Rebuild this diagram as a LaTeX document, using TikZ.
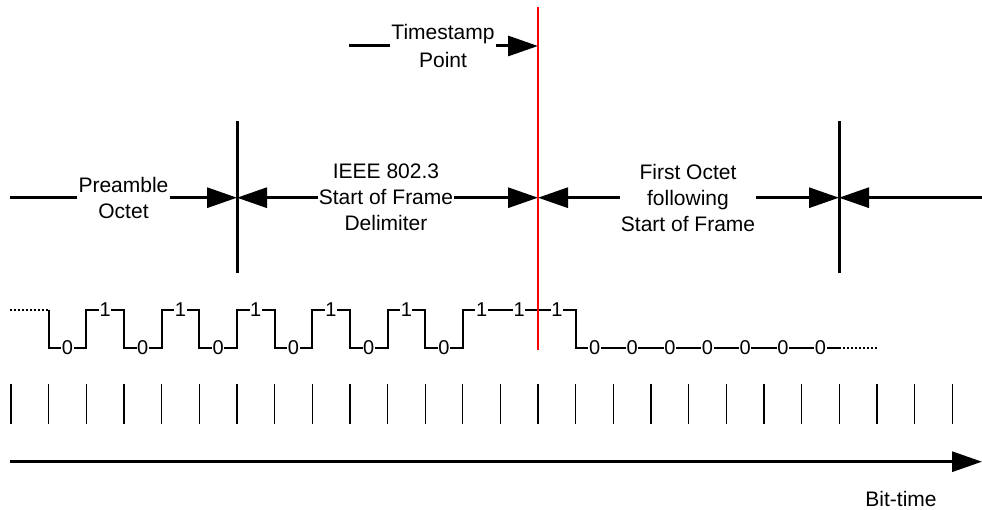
\documentclass[tikz,border=0pt]{standalone}
\usepackage{fontspec}
\setmainfont{Liberation Sans}
\usetikzlibrary{arrows.meta}
\begin{document}
\begin{tikzpicture}[x=1pt,y=-1pt,
  lbl/.style={font=\fontsize{21}{26}\selectfont, align=center, inner ysep=0pt, inner xsep=1pt},
  bitlbl/.style={font=\fontsize{20}{24}\selectfont, fill=white, inner sep=0.6pt},
  dimline/.style={line width=3pt},
  dimarrow/.style={line width=3pt, -{Triangle[length=30pt,width=20pt]}},
  wave/.style={line width=2pt},
  dotwave/.style={line width=1.6pt, dash pattern=on 2pt off 2pt},
  tickmark/.style={line width=1.3pt},
  marker/.style={line width=3pt}
]
\useasboundingbox (0,0) rectangle (982,510);

% ---- dimension row ----
\coordinate (d0) at (10,197.7);
\coordinate (v1) at (237,197.7);
\coordinate (v2) at (538,197.7);
\coordinate (v3) at (839,197.7);
\coordinate (d9) at (982,197.7);

\node[lbl] (pre) at (123.5,197.7) {Preamble\\Octet};
\node[lbl] (sfd) at (386,197.7) {IEEE 802.3\\Start of Frame\\Delimiter};
\node[lbl] (fo)  at (688,197.7) {First Octet\\following\\Start of Frame};

\draw[dimline]  (d0) -- (pre.west);
\draw[dimarrow] (pre.east) -- (v1);
\draw[dimarrow] (sfd.west) -- (v1);
\draw[dimarrow] (sfd.east) -- (v2);
\draw[dimarrow] (fo.west) -- (v2);
\draw[dimarrow] (fo.east) -- (v3);
\draw[dimarrow] (d9) -- (v3);

\draw[marker] (237,121) -- (237,273);
\draw[marker] (839,121) -- (839,273);

% ---- timestamp ----
\node[lbl, font=\fontsize{21}{28}\selectfont] (ts) at (443,46) {Timestamp\\Point};
\coordinate (ts0) at (349,46);
\coordinate (ts1) at (538,46);
\draw[dimline]  (ts0) -- (ts.west);
\draw[dimarrow] (ts.east) -- (ts1);

% ---- waveform ----
\draw[dotwave] (10,310) -- (48.65,310);
\draw[wave] (48.65,310) -- (48.65,348) -- (86.3,348) -- (86.3,310)
  -- (123.95,310) -- (123.95,348) -- (161.6,348) -- (161.6,310)
  -- (199.25,310) -- (199.25,348) -- (236.9,348) -- (236.9,310)
  -- (274.55,310) -- (274.55,348) -- (312.2,348) -- (312.2,310)
  -- (349.85,310) -- (349.85,348) -- (387.5,348) -- (387.5,310)
  -- (425.15,310) -- (425.15,348) -- (462.8,348) -- (462.8,310)
  -- (575.75,310) -- (575.75,348) -- (839.3,348);
\draw[dotwave] (839.3,348) -- (876.95,348);

\foreach \k/\b in {1/0,2/1,3/0,4/1,5/0,6/1,7/0,8/1,9/0,10/1,11/0,12/1,13/1,14/1,
                   15/0,16/0,17/0,18/0,19/0,20/0,21/0}
  \node[bitlbl] (bit\k) at ({11+37.65*(\k+0.5)},{348-38*\b}) {\b};

% ---- timestamp marker ----
\draw[line width=2.8pt, red] (538,7) -- (538,350);

% ---- bit-time ticks ----
\foreach \k in {0,...,25}
  \draw[tickmark] ({11+37.65*\k},384) -- ({11+37.65*\k},424);

\coordinate (ax0) at (10,461.7);
\coordinate (ax1) at (982,461.7);
\draw[dimarrow] (ax0) -- (ax1);
\node[lbl] (bt) at (901,499) {Bit-time};
\end{tikzpicture}
\end{document}
